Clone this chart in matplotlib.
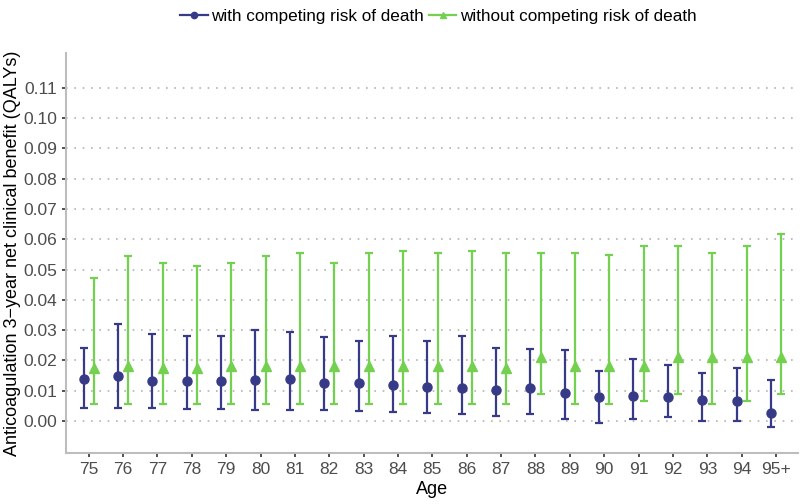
import numpy as np
import matplotlib.pyplot as plt

plt.rcParams['font.family'] = ['Liberation Sans', 'DejaVu Sans']

ages = ['75', '76', '77', '78', '79', '80', '81', '82', '83', '84',
        '85', '86', '87', '88', '89', '90', '91', '92', '93', '94', '95+']

# with competing risk of death
with_mean = [0.0138, 0.0149, 0.0132, 0.0131, 0.0133, 0.0136, 0.0139, 0.0127, 0.0124, 0.0118,
             0.0113, 0.0109, 0.0102, 0.0110, 0.0091, 0.0079, 0.0084, 0.0079, 0.0068, 0.0066, 0.0025]
with_lo = [0.0044, 0.0044, 0.0043, 0.0040, 0.0040, 0.0037, 0.0036, 0.0035, 0.0032, 0.0030,
           0.0025, 0.0023, 0.0017, 0.0022, 0.0008, -0.0006, 0.0008, 0.0014, 0.0000, -0.0001, -0.0020]
with_hi = [0.0242, 0.0319, 0.0288, 0.0280, 0.0281, 0.0299, 0.0295, 0.0278, 0.0263, 0.0281,
           0.0263, 0.0282, 0.0241, 0.0238, 0.0234, 0.0165, 0.0206, 0.0186, 0.0158, 0.0175, 0.0134]

# without competing risk of death
wo_mean = [0.0174, 0.0182, 0.0174, 0.0174, 0.0182, 0.0180, 0.0180, 0.0180, 0.0180, 0.0180,
           0.0180, 0.0180, 0.0174, 0.0212, 0.0180, 0.0180, 0.0180, 0.0212, 0.0212, 0.0212, 0.0212]
wo_lo = [0.0056, 0.0056, 0.0056, 0.0056, 0.0056, 0.0056, 0.0056, 0.0056, 0.0056, 0.0056,
         0.0056, 0.0056, 0.0056, 0.0089, 0.0056, 0.0056, 0.0067, 0.0089, 0.0056, 0.0067, 0.0089]
wo_hi = [0.0471, 0.0544, 0.0522, 0.0511, 0.0522, 0.0544, 0.0553, 0.0522, 0.0553, 0.0562,
         0.0553, 0.0562, 0.0553, 0.0553, 0.0553, 0.0549, 0.0577, 0.0577, 0.0553, 0.0577, 0.0617]

blue = '#373a87'
green = '#74d04f'

fig = plt.figure(figsize=(8, 5.04), dpi=100)
ax = fig.add_axes([0.083, 0.101, 0.915, 0.794])

x = np.arange(len(ages))
dx = 0.15

def draw(xs, m, lo, hi, color, marker, ms, label):
    m = np.array(m)
    err = [m - np.array(lo), np.array(hi) - m]
    ax.errorbar(xs, m, yerr=err, fmt='none', ecolor=color, elinewidth=1.6,
                capsize=3, capthick=1.6, zorder=3)
    ax.plot(xs, m, linestyle='none', marker=marker, color=color, ms=ms, zorder=4)
    ax.plot([], [], color=color, marker=marker, ms=ms - 2, lw=1.6, label=label)

draw(x - dx, with_mean, with_lo, with_hi, blue, 'o', 6.5, 'with competing risk of death')
draw(x + dx, wo_mean, wo_lo, wo_hi, green, '^', 7, 'without competing risk of death')

ax.set_xlim(-0.65, len(ages) - 0.35)
ax.set_ylim(-0.0106, 0.1215)
ax.set_xticks(x)
ax.set_xticklabels(ages)
yt = np.round(np.arange(0, 0.111, 0.01), 2)
ax.set_yticks(yt)
ax.set_yticklabels(['%.2f' % v for v in yt])

ax.grid(axis='y', color='#b3b3b3', linestyle=(0, (1, 4)), linewidth=1.2)
ax.set_axisbelow(True)
for s in ['top', 'right']:
    ax.spines[s].set_visible(False)
for s in ['left', 'bottom']:
    ax.spines[s].set_color('#bdbdbd')
    ax.spines[s].set_linewidth(1.5)
ax.tick_params(axis='both', colors='#333333', labelcolor='#4d4d4d', labelsize=12.5,
               length=3, width=1.2)

ax.set_xlabel('Age', fontsize=13, labelpad=3)
ax.set_ylabel('Anticoagulation 3\u2212year net clinical benefit (QALYs)', fontsize=13, labelpad=2)

fig.legend(loc='upper center', bbox_to_anchor=(0.548, 1.012), ncol=2, frameon=False,
           fontsize=12.3, handlelength=1.6, handletextpad=0.2, columnspacing=0.3)

fig.savefig('out.png', dpi=100)
